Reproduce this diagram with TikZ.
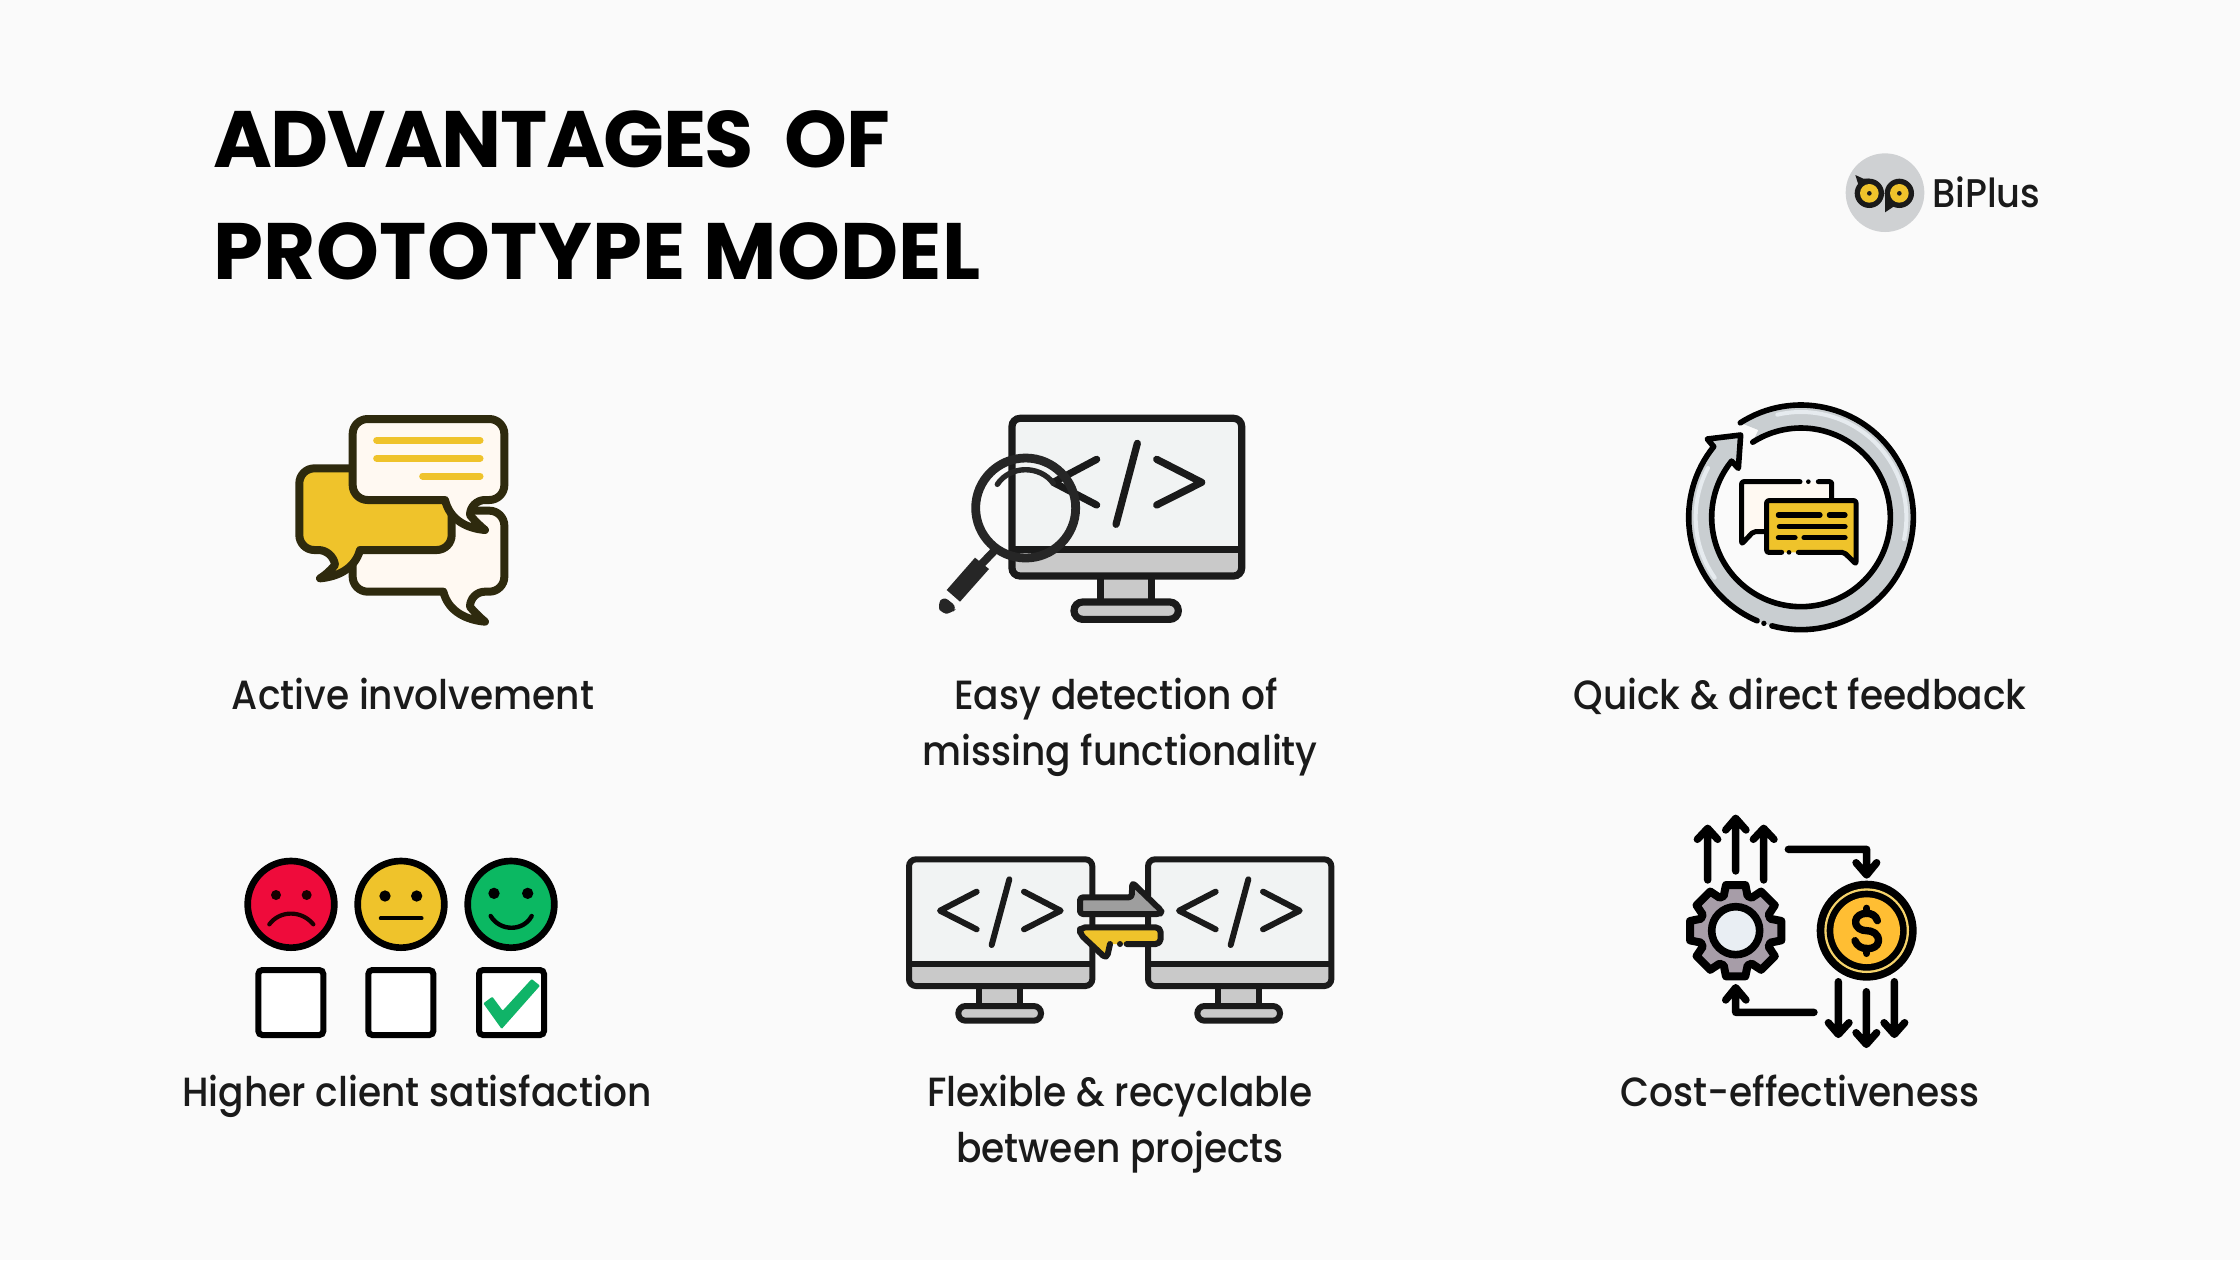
\documentclass[tikz,border=0pt]{standalone}
\usepackage{fontspec}
\setmainfont{Poppins}
\newfontfamily\labelfont{Poppins Medium}[FakeStretch=0.92]
\usetikzlibrary{calc}
\definecolor{bg}{HTML}{FAFAFA}
\definecolor{ink}{HTML}{1A1A1A}
\definecolor{olive}{HTML}{2E2A0E}
\definecolor{gold}{HTML}{EFC32B}
\definecolor{cream}{HTML}{FFF9F2}
\definecolor{screen}{HTML}{F1F3F3}
\definecolor{band}{HTML}{C9C9C9}
\definecolor{ringgrey}{HTML}{C9CED1}
\definecolor{ringlight}{HTML}{E6EBEF}
\definecolor{redface}{HTML}{EF0B3B}
\definecolor{greenface}{HTML}{0BB862}
\definecolor{checkgreen}{HTML}{10B468}
\definecolor{gearfill}{HTML}{A79DA8}
\definecolor{hubfill}{HTML}{E9EEF3}
\definecolor{coin}{HTML}{FFBE33}
\definecolor{coinring}{HTML}{F5D36B}
\definecolor{logobg}{HTML}{CFD1D3}
\tikzset{
 zoomed/.style 2 args={shift={(#1,#2)},x=0.16667pt,y=-0.16667pt},
 label text/.style={anchor=base,inner sep=0pt,font=\labelfont\fontsize{20.4}{24}\selectfont,text=ink},
 title text/.style={anchor=base west,inner sep=0pt,text=black},
 stroke/.style={line width=#1,line join=round,line cap=round},
 stroke/.default=3.33pt
}
\newcommand{\monitorcode}[1]{%
  \begin{scope}[xshift=#1*0.16667pt]
  \fill[screen] (42,58) rectangle (592,373);
  \fill[band] (42,373) rectangle (592,438);
  \fill[band] (252,438) rectangle (375,498);
  \draw[ink,line width=3pt] (252,438) -- (252,498) (375,438) -- (375,498);
  \draw[ink,line width=3pt,rounded corners=3.5pt] (42,58) rectangle (592,438);
  \draw[ink,line width=3pt] (42,373) -- (592,373);
  \draw[ink,line width=3pt,fill=band,rounded corners=3.6pt] (190,498) rectangle (438,542);
  \draw[ink,stroke=3pt] (245,155) -- (135,212) -- (245,268) (343,118) -- (290,315) (387,155) -- (497,212) -- (387,268);
  \end{scope}}
\begin{document}
\begin{tikzpicture}[x=0.5pt,y=-0.5pt]
\useasboundingbox (0,0) rectangle (2240,1260);
\fill[bg] (0,0) rectangle (2240,1260);

% title
\node[title text,font=\fontsize{40}{48}\selectfont\bfseries\addfontfeatures{LetterSpace=-1.9}] (t1) at (213,167) {ADVANTAGES\ \ OF};
\node[title text,font=\fontsize{40}{48}\selectfont\bfseries\addfontfeatures{LetterSpace=0.5}] (t2) at (213,279) {PROTOTYPE MODEL};

% logo
\begin{scope}[zoomed={1830}{140}]
  \fill[logobg] (165,158) circle[radius=118];
  \fill[ink] (76,105) -- (100,116) -- (118,116) -- (90,150) -- cycle;
  \fill[ink] (165,217) -- (165,160) -- (195,197) -- cycle;
  \fill[ink] (118,160) circle[radius=44] (208,160) circle[radius=44];
  \fill[gold] (118,160) circle[radius=28] (208,160) circle[radius=28];
  \fill[ink] (118,160) circle[radius=7] (208,160) circle[radius=7];
\end{scope}
\node[anchor=base west,inner sep=0pt,font=\labelfont\fontsize{20}{24}\selectfont,text=ink] (logo) at (1932,207) {BiPlus};

% icon 1
\begin{scope}[zoomed={270}{390}]
  \tikzset{bubble/.style={draw=olive,line width=4pt,line join=round}}
  \path[bubble,fill=cream,rounded corners=7.5pt] (520,605) -- (248,605) -- (248,362) -- (703,362) -- (703,605) -- (600,605) [sharp corners] .. controls (600,650) and (615,670) .. (645,695) .. controls (590,690) and (535,665) .. (520,605) -- cycle;
  \path[bubble,fill=gold,rounded corners=7.5pt] (270,480) -- (545,480) -- (545,235) -- (88,235) -- (88,480) -- (190,480) [sharp corners] .. controls (195,525) and (175,550) .. (150,565) .. controls (205,560) and (255,535) .. (270,480) -- cycle;
  \path[bubble,fill=cream,rounded corners=7.5pt] (525,330) -- (248,330) -- (248,87) -- (703,87) -- (703,330) -- (600,330) [sharp corners] .. controls (600,375) and (615,395) .. (645,420) .. controls (590,415) and (540,390) .. (525,330) -- cycle;
  \draw[gold,stroke=3.5pt] (320,151) -- (630,151) (320,205) -- (630,205) (458,258) -- (630,258);
\end{scope}
\node[label text] (l1) at (413,709) {Active involvement};

% icon 2
\begin{scope}[zoomed={920}{390}]
  \fill[screen] (276,85) rectangle (965,478);
  \fill[band] (276,478) rectangle (965,558);
  \fill[band] (542,558) rectangle (695,636);
  \draw[ink,line width=3.6pt] (542,558) -- (542,636) (695,558) -- (695,636);
  \draw[ink,line width=3.6pt,rounded corners=4pt] (276,85) rectangle (965,558);
  \draw[ink,line width=3.6pt] (276,478) -- (965,478);
  \draw[ink,line width=3.6pt,fill=band,rounded corners=4.3pt] (462,636) rectangle (775,688);
  \draw[ink,stroke=3.6pt] (530,208) -- (400,277) -- (530,345) (652,160) -- (588,403) (710,208) -- (845,277) -- (710,345);
  \draw[black!85,line width=4.4pt] (317,354) circle[radius=150];
  \draw[black!85,stroke=2.7pt] (232,283) .. controls (270,225) and (360,225) .. (400,280);
  \draw[black!85,line width=4pt] (225,480) -- (180,527);
  \fill[black!85] (165,503) -- (207,537) -- (120,635) -- (80,600) -- cycle;
  \fill[black!85,rounded corners=3pt] (70,618) -- (112,652) -- (95,670) -- (65,672) -- (52,645) -- cycle;
\end{scope}
\node[label text] (l2a) at (1116,709) {Easy detection of};
\node[label text] (l2b) at (1120,765) {missing functionality};

% icon 3
\begin{scope}[zoomed={1670}{390}]
  \coordinate (rc) at (393,382);
  \fill[ringgrey,line join=round] ($(rc)+(-122.7:337)$) -- (265,120) -- ($(rc)+(-122.7:268)$) arc[start angle=-122.7,end angle=219,radius=268] -- (205,235) -- (212,135) -- (112,147) -- ($(rc)+(219:337)$) arc[start angle=219,end angle=-122.7,radius=337] -- cycle;
  \draw[ringlight,stroke=2pt] ($(rc)+(-103:316)$) arc[start angle=-103,end angle=12,radius=316];
  \draw[ringlight,stroke=2pt] ($(rc)+(145:316)$) arc[start angle=145,end angle=208,radius=316];
  \draw[black,stroke=2.8pt] ($(rc)+(-122.7:337)$) arc[start angle=-122.7,end angle=105,radius=337];
  \draw[black,stroke=2.8pt] ($(rc)+(113:337)$) arc[start angle=113,end angle=219,radius=337] -- (112,147) -- (212,135) -- (205,235) -- ($(rc)+(219:268)$) arc[start angle=219,end angle=-122.7,radius=268];
  \fill[black] ($(rc)+(109.3:337)$) circle[radius=8];
  % back bubble
  \fill[cream] (215,275) -- (485,275) -- (485,430) -- (250,425) -- (215,462) -- cycle;
  \draw[black,stroke=2.5pt,rounded corners=1pt] (390,275) -- (215,275) -- (215,462) -- (250,425) -- (290,425);
  \draw[black,stroke=2.5pt,rounded corners=1pt] (445,275) -- (485,275) -- (485,332);
  \fill[black] (415,275) circle[radius=7];
  % front bubble
  \fill[gold,rounded corners=1pt] (290,332) -- (558,332) -- (558,522) -- (520,487) -- (290,487) -- cycle;
  \draw[black,stroke=2.5pt,rounded corners=1pt] (335,487) -- (290,487) -- (290,332) -- (558,332) -- (558,522) -- (522,487) -- (385,487);
  \fill[black] (357,487) circle[radius=7];
  \draw[black,stroke=2.6pt] (325,375) -- (450,375) (478,375) -- (525,375) (328,410) -- (525,410) (325,443) -- (375,443) (402,443) -- (525,443);
\end{scope}
\node[label text] (l3) at (1800,709) {Quick \& direct feedback};

% icon 4
\begin{scope}[zoomed={230}{840}]
  \draw[black,line width=3.33pt,fill=redface] (183,193) circle[radius=130];
  \draw[black,line width=3.33pt,fill=gold] (513,193) circle[radius=130];
  \draw[black,line width=3.33pt,fill=greenface] (843,193) circle[radius=130];
  \fill[black!90!red] (138,165) circle[radius=15] (230,165) circle[radius=15];
  \draw[black!90!red,stroke=2.1pt] (118,253) .. controls (150,210) and (215,210) .. (250,253);
  \fill[black] (465,168) circle[radius=17] (560,168) circle[radius=17];
  \draw[black,stroke=1.9pt] (452,235) -- (575,235);
  \fill[black] (792,160) circle[radius=17] (893,160) circle[radius=17];
  \draw[black,stroke=2.2pt] (782,228) .. controls (810,275) and (880,275) .. (905,228);
  \tikzset{check/.style={draw=black,line width=3pt,fill=white,rounded corners=2pt}}
  \path[check] (85,390) rectangle (280,585);
  \path[check] (415,390) rectangle (610,585);
  \path[check] (747,390) rectangle (942,585);
  \fill[checkgreen,rounded corners=0.5pt] (760,490) -- (787,470) -- (818,512) -- (905,417) -- (930,437) -- (815,567) -- cycle;
\end{scope}
\node[label text] (l4) at (417,1106) {Higher client satisfaction};

% icon 5
\begin{scope}[zoomed={895}{840}]
  \monitorcode{0}
  \monitorcode{717}
  \draw[ink,line width=3pt,fill=black!38,line join=round,rounded corners=1.5pt] (710,172) -- (712,128) -- (800,213) -- (795,222) -- (555,222) -- (555,172) -- cycle;
  \fill[gold,rounded corners=1.5pt] (795,262) -- (555,262) -- (555,282) -- (635,357) -- (645,312) -- (795,312) -- cycle;
  \draw[ink,stroke=3pt,rounded corners=2.5pt] (695,312) -- (797,312) -- (797,262) -- (555,262) -- (555,282) -- (635,357) -- (645,312);
  \fill[ink] (675,312) circle[radius=9];
\end{scope}
\node[label text] (l5a) at (1120,1106) {Flexible \& recyclable};
\node[label text] (l5b) at (1120,1162) {between projects};

% icon 6
\begin{scope}[zoomed={1670}{800}]
  \tikzset{flow/.style={draw=black,line width=3.7pt,line join=round,line cap=round}}
  \path[flow] (113,240) -- (113,85) (82,118) -- (113,85) -- (143,118);
  \path[flow] (197,213) -- (197,55) (167,90) -- (197,55) -- (228,90);
  \path[flow] (281,240) -- (281,85) (250,118) -- (281,85) -- (312,118);
  \path[flow] (355,148) -- (590,148) -- (590,222) (558,188) -- (590,225) -- (620,188);
  \path[flow] (505,545) -- (505,700) (475,668) -- (505,703) -- (537,668);
  \path[flow] (589,575) -- (589,730) (558,698) -- (589,733) -- (620,698);
  \path[flow] (673,545) -- (673,700) (642,668) -- (673,703) -- (704,668);
  \path[flow] (432,637) -- (197,637) -- (197,565) (167,600) -- (197,563) -- (228,600);
  % gear
  \coordinate (gc) at (197,392);
  \draw[black,line width=4pt,line join=round,fill=gearfill]
    ($(gc)+(-102:140)$)
    \foreach \a in {0,45,...,315}{
      -- ($(gc)+(\a-102:140)$) -- ($(gc)+(\a-78:140)$) -- ($(gc)+(\a-71:110)$) -- ($(gc)+(\a-64:110)$)
    } -- cycle;
  \draw[black,line width=3.8pt,fill=hubfill] (gc) circle[radius=72];
  % coin
  \fill[black] (590,392) circle[radius=150];
  \fill[coinring] (590,392) circle[radius=127];
  \fill[black] (590,392) circle[radius=120];
  \fill[coin] (590,392) circle[radius=100];
  \draw[black,stroke=3.7pt] (590,325) -- (590,340) (590,445) -- (590,460);
  \draw[black,stroke=3.7pt] (622,362) .. controls (615,330) and (560,335) .. (557,362) .. controls (555,385) and (575,392) .. (590,392) .. controls (605,392) and (628,400) .. (625,425) .. controls (622,452) and (565,455) .. (555,422);
\end{scope}
\node[label text] (l6) at (1800,1106) {Cost-effectiveness};
\end{tikzpicture}
\end{document}
